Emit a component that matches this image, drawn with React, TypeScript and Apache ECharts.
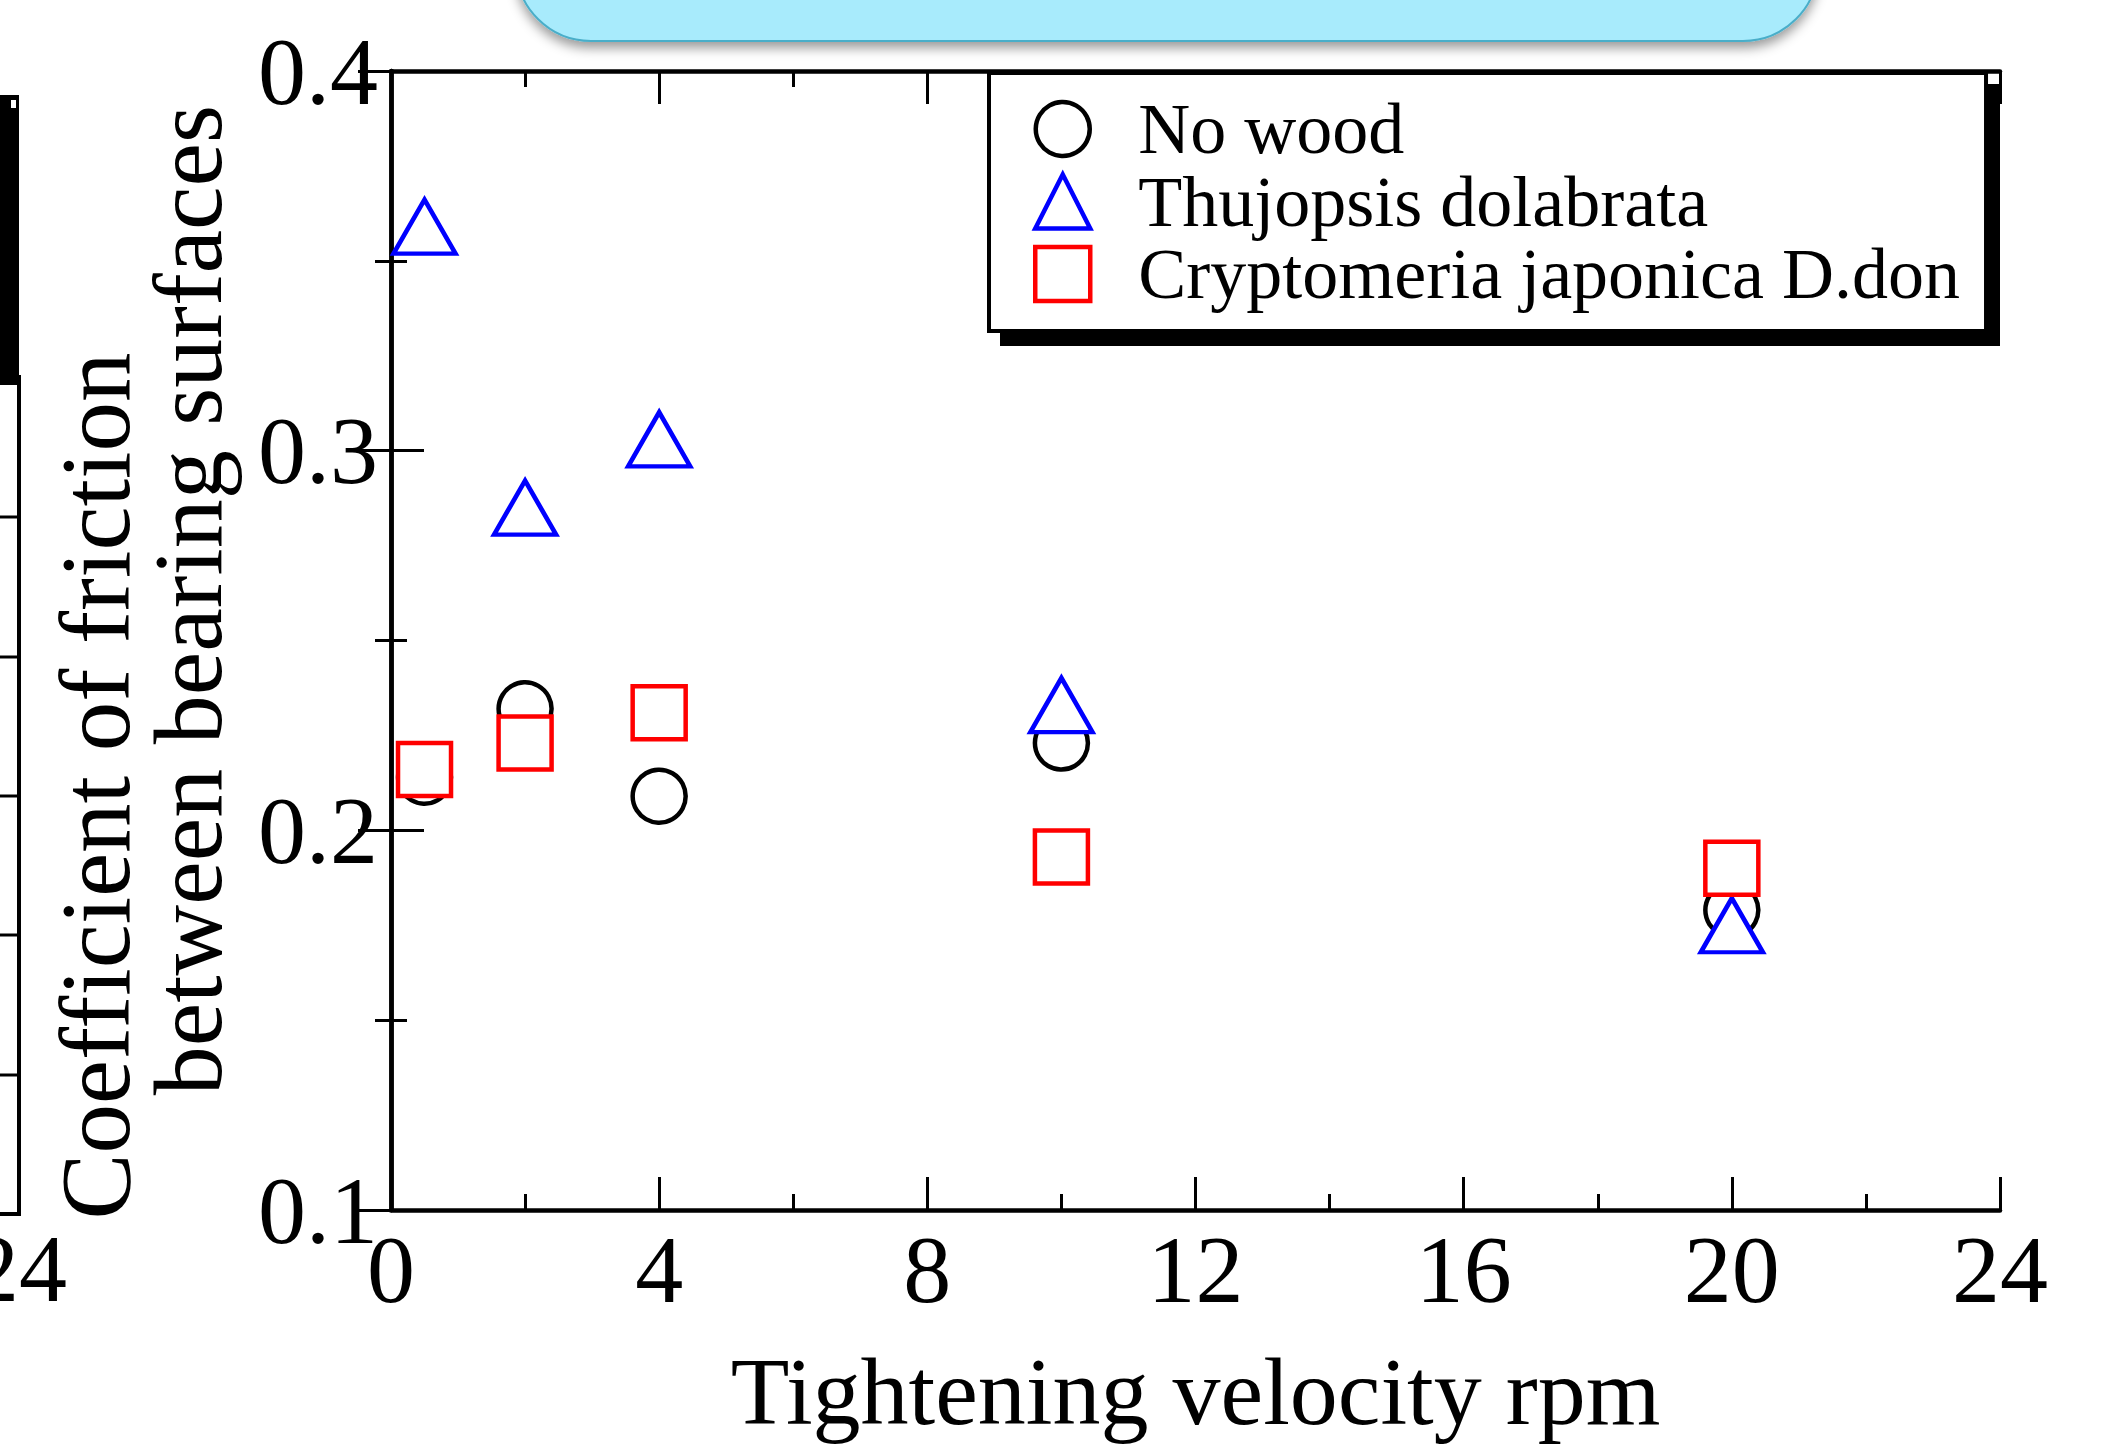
import React, { useEffect, useRef } from 'react';
import * as echarts from 'echarts';

// ---- data ----
const velocities = [0.5, 2, 4, 10, 20];
const noWood = [0.214, 0.232, 0.209, 0.223, 0.179];
const thujopsis = [0.359, 0.285, 0.303, 0.233, 0.175];
const cryptomeria = [0.216, 0.223, 0.231, 0.193, 0.19];
const seriesNames = ['No wood', 'Thujopsis dolabrata', 'Cryptomeria japonica D.don'];
const yLabelLines = ['Coefficient of friction', 'between bearing surfaces'];
const xLabel = 'Tightening velocity rpm';
const leftChartTickLabel = '24';
const leftChartTickYs = [517, 657, 796, 935, 1075];

const FONT = '"Liberation Serif", "Times New Roman", serif';

const pair = (ys: number[]) => velocities.map((x, i) => [x, ys[i]]);

export default function App() {
  const ref = useRef<HTMLDivElement>(null);

  useEffect(() => {
    document.body.style.margin = '0';
    document.body.style.overflow = 'hidden';
    const chart = echarts.init(ref.current!, null, { renderer: 'svg' });

    const axisLine = { show: true, lineStyle: { color: '#000', width: 4.5 } };
    const axisTick = { show: true, inside: true, length: 33, lineStyle: { color: '#000', width: 3 } };
    const minorTick = { show: true, splitNumber: 2, length: 16, lineStyle: { color: '#000', width: 3 } };
    const xCommon: any = {
      type: 'value', min: 0, max: 24, interval: 4,
      splitLine: { show: false }, minorSplitLine: { show: false },
      axisLine, axisTick, minorTick,
    };
    const yCommon: any = {
      type: 'value', min: 0.1, max: 0.4, interval: 0.1,
      splitLine: { show: false }, minorSplitLine: { show: false },
      axisLine, axisTick, minorTick,
    };
    const labelStyle = { fontSize: 96, fontFamily: FONT, color: '#000' };

    const graphic: any[] = [
      {
        type: 'rect', z: 1,
        shape: { x: 516, y: -130, width: 1302, height: 171, r: 75 },
        style: {
          fill: '#a8ebfc', stroke: '#4aaec9', lineWidth: 2,
          shadowBlur: 12, shadowOffsetY: 6, shadowColor: 'rgba(0,0,0,0.4)',
        },
      },
      { type: 'rect', z: 3, shape: { x: 1000, y: 84, width: 1000, height: 262 }, style: { fill: '#000' } },
      // neighbouring chart fragment at the left edge
      { type: 'rect', z: 3, shape: { x: 0, y: 95, width: 19, height: 290 }, style: { fill: '#000' } },
      { type: 'rect', z: 4, shape: { x: 11, y: 100, width: 5, height: 8 }, style: { fill: '#fff' } },
      { type: 'line', z: 3, shape: { x1: 19, y1: 375, x2: 19, y2: 1216 }, style: { stroke: '#000', lineWidth: 4 } },
      { type: 'line', z: 3, shape: { x1: 0, y1: 1214, x2: 21, y2: 1214 }, style: { stroke: '#000', lineWidth: 4 } },
      ...leftChartTickYs.map((y) => ({
        type: 'line', z: 3, shape: { x1: 0, y1: y, x2: 19, y2: y }, style: { stroke: '#000', lineWidth: 3 },
      })),
      {
        type: 'text', z: 3, x: 19, y: 1268,
        style: { text: leftChartTickLabel, font: `96px ${FONT}`, fill: '#000', align: 'center', verticalAlign: 'middle' },
      },
      // y axis title (two lines)
      {
        type: 'text', z: 3, x: 95, y: 786, rotation: Math.PI / 2,
        style: { text: yLabelLines[0], font: `99px ${FONT}`, fill: '#000', align: 'center', verticalAlign: 'middle' },
      },
      {
        type: 'text', z: 3, x: 188, y: 600, rotation: Math.PI / 2,
        style: { text: yLabelLines[1], font: `98px ${FONT}`, fill: '#000', align: 'center', verticalAlign: 'middle' },
      },
    ];

    const symbolStyle = (c: string) => ({ color: '#fff', borderColor: c, borderWidth: 4.5, opacity: 1 });

    chart.setOption({
      animation: false,
      backgroundColor: '#fff',
      grid: { left: 391, top: 71, width: 1609, height: 1150, containLabel: false },
      xAxis: [
        {
          ...xCommon, position: 'bottom',
          axisLabel: { ...labelStyle, margin: 11 },
          name: xLabel, nameLocation: 'middle', nameGap: 133,
          nameTextStyle: { fontSize: 96, fontFamily: FONT, color: '#000' },
        },
        { ...xCommon, position: 'top', axisLabel: { show: false } },
      ],
      yAxis: [
        {
          ...yCommon, position: 'left',
          axisLabel: { ...labelStyle, margin: 13, formatter: (v: number) => v.toFixed(1) },
        },
        { ...yCommon, position: 'right', axisLabel: { show: false } },
      ],
      legend: {
        orient: 'vertical', left: 989, top: 73, z: 10,
        itemWidth: 55, itemHeight: 54, itemGap: 0.5,
        padding: [20, 26, 21, 44],
        backgroundColor: '#fff', borderColor: '#000', borderWidth: 4,
        itemStyle: { borderWidth: 4.5, opacity: 1 },
        textStyle: { fontSize: 72, fontFamily: FONT, color: '#000', padding: [0, 0, 0, 43] },
        data: seriesNames,
      },
      graphic,
      series: [
        {
          name: seriesNames[0], type: 'scatter', symbol: 'circle', symbolSize: 53,
          itemStyle: symbolStyle('#000'), data: pair(noWood), z: 2,
        },
        {
          name: seriesNames[1], type: 'scatter', symbol: 'triangle', symbolSize: [62, 54],
          itemStyle: symbolStyle('#0000ff'), data: pair(thujopsis), z: 2,
        },
        {
          name: seriesNames[2], type: 'scatter', symbol: 'rect', symbolSize: 53,
          itemStyle: symbolStyle('#ff0000'), data: pair(cryptomeria), z: 2,
        },
      ],
    });

    return () => chart.dispose();
  }, []);

  return (
    <div
      ref={ref}
      style={{ position: 'absolute', left: 0, top: 0, width: 2115, height: 1444 }}
    />
  );
}
